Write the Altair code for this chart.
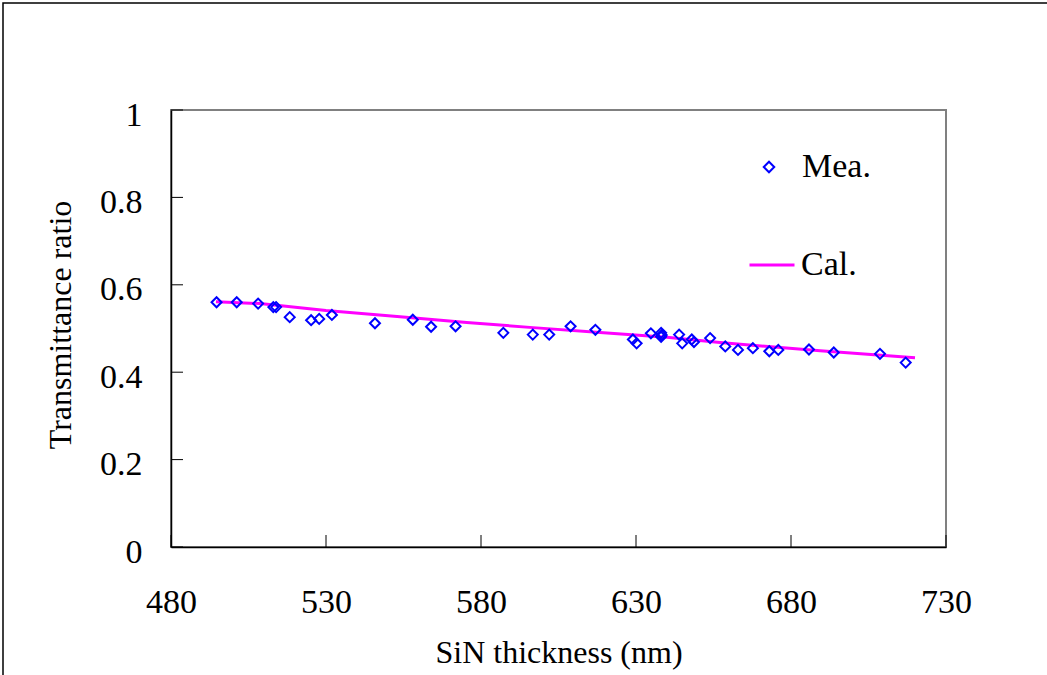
import altair as alt
import pandas as pd

# Measured points (SiN thickness in nm, transmittance ratio)
mea_x = [494.7, 501.2, 508.1, 513.0, 513.9, 518.3, 525.2, 527.8, 531.9, 545.8,
         558.0, 563.9, 571.8, 587.2, 596.7, 602.0, 608.9, 616.9, 629.0, 630.2,
         634.8, 638.1, 638.3, 638.1, 643.9, 644.9, 648.0, 648.7, 653.9, 658.8,
         662.9, 667.7, 673.0, 675.9, 685.8, 693.8, 708.7, 717.0]
mea_y = [0.560, 0.560, 0.557, 0.549, 0.549, 0.526, 0.519, 0.522, 0.531, 0.512,
         0.520, 0.504, 0.505, 0.490, 0.486, 0.486, 0.505, 0.497, 0.475, 0.466,
         0.489, 0.490, 0.485, 0.481, 0.486, 0.466, 0.475, 0.469, 0.478, 0.459,
         0.451, 0.455, 0.448, 0.451, 0.452, 0.445, 0.442, 0.422]

# Calculated curve
cal_x = [494.5, 508.7, 530.0, 553.9, 575.4, 596.8, 618.4, 639.9, 657.1, 689.4, 720.0]
cal_y = [0.561, 0.557, 0.541, 0.527, 0.514, 0.502, 0.491, 0.480, 0.468, 0.449, 0.433]

x_ticks = [480, 530, 580, 630, 680, 730]
y_ticks = [0, 0.2, 0.4, 0.6, 0.8, 1.0]

FONT = "Liberation Serif"
FS = 34
TFS = 32
W, H = 775, 437

mea = pd.DataFrame({"x": mea_x, "y": mea_y, "series": ["Mea."] * len(mea_x)})
cal = pd.DataFrame({"x": cal_x, "y": cal_y, "series": ["Cal."] * len(cal_x)})
xt = pd.DataFrame({"x": x_ticks})
yt = pd.DataFrame({"y": y_ticks})

xscale = alt.Scale(domain=[480, 730], nice=False, zero=False)
yscale = alt.Scale(domain=[0, 1], nice=False)

xaxis = alt.Axis(values=x_ticks, ticks=False, tickSize=0, grid=False, domainColor="black",
                 domainWidth=1.5, labelFont=FONT, labelFontSize=FS, labelColor="black",
                 labelPadding=38, labelFlush=False, title="SiN thickness (nm)", titleFont=FONT,
                 titleFontSize=TFS, titleFontWeight="normal", titleColor="black",
                 titleX=W / 2, titleY=90)
yaxis = alt.Axis(values=y_ticks, ticks=False, tickSize=0, grid=False, domainColor="black",
                 domainWidth=1.5, labelFont=FONT, labelFontSize=FS, labelColor="black",
                 labelPadding=29, labelFlush=False, labelOffset=5,
                 labelExpr="datum.value == 0 ? '0' : datum.value == 1 ? '1' : format(datum.value, '.1f')",
                 title="Transmittance ratio", titleFont=FONT, titleFontSize=TFS,
                 titleFontWeight="normal", titleColor="black", titleX=-94, titleY=H / 2 - 4)

frame = alt.Chart(pd.DataFrame({"a": [0]})).mark_rect(
    filled=False, stroke="black", strokeWidth=1.5
).encode(x=alt.value(-168), y=alt.value(-107), x2=alt.value(900), y2=alt.value(600))

line = alt.Chart(cal).mark_line(strokeWidth=3).encode(
    x=alt.X("x:Q", scale=xscale, axis=xaxis),
    y=alt.Y("y:Q", scale=yscale, axis=yaxis),
    color=alt.Color("series:N", scale=alt.Scale(domain=["Cal."], range=["#ff00ff"]),
                    legend=alt.Legend(orient="none", legendX=577, legendY=131, title=None,
                                      symbolType="stroke", symbolSize=2025, symbolStrokeWidth=3,
                                      labelFont=FONT, labelFontSize=FS, labelColor="black",
                                      labelOffset=5, padding=0)),
)

points = alt.Chart(mea).mark_point(shape="diamond", filled=False, color="#0000ff", opacity=1,
                                   size=100, strokeWidth=2).encode(
    x=alt.X("x:Q", scale=xscale),
    y=alt.Y("y:Q", scale=yscale),
    shape=alt.Shape("series:N", scale=alt.Scale(domain=["Mea."], range=["diamond"]),
                    legend=alt.Legend(orient="none", legendX=581, legendY=40, title=None,
                                      symbolSize=110, symbolStrokeWidth=2, symbolOpacity=1,
                                      symbolStrokeColor="#0000ff", symbolFillColor="transparent",
                                      labelFont=FONT, labelFontSize=FS, labelColor="black",
                                      labelOffset=16, padding=0)),
)

xtick = alt.Chart(xt).mark_rule(color="black", strokeWidth=1).encode(
    x=alt.X("x:Q", scale=xscale), y=alt.value(H), y2=alt.value(H - 12))
ytick = alt.Chart(yt).mark_rule(color="black", strokeWidth=1).encode(
    y=alt.Y("y:Q", scale=yscale), x=alt.value(0), x2=alt.value(12))

chart = alt.layer(frame, line, points, xtick, ytick).resolve_legend(
    color="independent", shape="independent"
).properties(
    width=W, height=H,
    autosize=alt.AutoSizeParams(type="none"),
    padding={"left": 171, "top": 110, "right": 101, "bottom": 128},
    background="white",
).configure_view(stroke="#808080", strokeWidth=2)

chart.save("out.html", embed_options={"renderer": "svg", "actions": False})
